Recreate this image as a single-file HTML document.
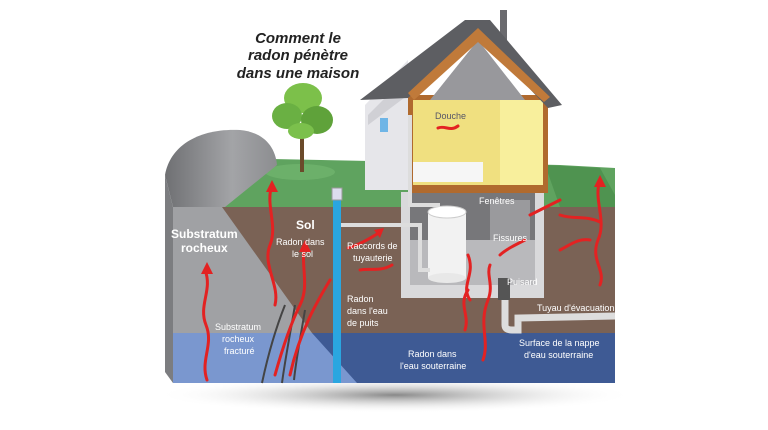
<!DOCTYPE html>
<html><head><meta charset="utf-8"><style>
html,body{margin:0;padding:0;background:#fff;width:768px;height:430px;overflow:hidden}
svg text{font-family:"Liberation Sans",sans-serif}
</style></head><body>
<svg width="768" height="430" viewBox="0 0 768 430" xmlns="http://www.w3.org/2000/svg">
<defs>
<radialGradient id="sh" cx="50%" cy="50%" r="50%"><stop offset="0" stop-color="#555" stop-opacity=".7"/><stop offset="1" stop-color="#fff" stop-opacity="0"/></radialGradient>
<linearGradient id="rk" x1="0" y1="0" x2="1" y2="0"><stop offset="0" stop-color="#6f7073"/><stop offset=".6" stop-color="#a3a4a7"/><stop offset="1" stop-color="#8c8d90"/></linearGradient>
</defs>
<rect width="768" height="430" fill="#fff"/>
<ellipse cx="395" cy="395" rx="240" ry="18" fill="url(#sh)"/>
<!-- grass top -->
<polygon points="225,158 560,165 615,168 615,207 200,207" fill="#5fa35f"/>
<polygon points="545,165 600,168 615,195 615,207 560,207" fill="#4f9350"/>
<ellipse cx="300" cy="172" rx="35" ry="8" fill="#6cb06a"/>
<!-- rock hill -->
<path d="M165,175 C170,145 200,128 240,130 C262,132 275,145 277,165 L225,207 L173,207 Z" fill="url(#rk)"/>
<path d="M165,175 L173,207 L173,383 L165,372 Z" fill="#7c7d80"/>
<!-- front soil -->
<rect x="173" y="207" width="442" height="126" fill="#7a6255"/>
<rect x="173" y="333" width="442" height="50" fill="#3e5a94"/>
<polygon points="173,207 222,207 312,333 173,333" fill="#a0a1a4"/>
<polygon points="173,333 312,333 357,383 173,383" fill="#7a97cf"/>
<g fill="none" stroke="#444" stroke-width="2">
<path d="M285,305 C275,330 268,355 262,383"/><path d="M295,305 C290,335 285,360 282,383"/><path d="M305,310 C300,340 296,360 294,380"/>
</g>
<!-- well pipe -->
<rect x="333" y="195" width="8" height="188" fill="#2aa6e0"/>
<rect x="332" y="188" width="10" height="12" fill="#dde" stroke="#999"/>
<!-- basement -->
<rect x="401" y="192" width="143" height="106" fill="#d9d9db"/>
<rect x="410" y="192" width="125" height="48" fill="#77777a"/>
<polygon points="410,240 535,240 535,285 410,285" fill="#b9b9bc"/>
<rect x="490" y="200" width="40" height="40" fill="#9a9a9d"/>
<rect x="428" y="212" width="38" height="66" fill="#f2f2f2"/>
<ellipse cx="447" cy="212" rx="19" ry="6" fill="#fff" stroke="#ccc"/>
<ellipse cx="447" cy="278" rx="19" ry="5" fill="#e8e8e8"/>
<path d="M505,300 L505,325 Q505,330 512,330 L518,330 L518,318 L615,316" fill="none" stroke="#ddd" stroke-width="7"/>
<rect x="498" y="278" width="12" height="22" fill="#555"/>
<!-- house -->
<polygon points="365,105 408,60 408,190 365,190" fill="#e6e6ea"/>
<polygon points="368,115 408,75 408,95 368,125" fill="#d0d0d5"/>
<rect x="380" y="118" width="8" height="14" fill="#6fb5e6"/>
<rect x="408" y="95" width="140" height="98" fill="#b06a2e"/>
<rect x="413" y="100" width="130" height="85" fill="#f0e080"/>
<rect x="500" y="100" width="43" height="85" fill="#f8ef9c"/>
<rect x="413" y="162" width="70" height="20" fill="#f6f6f6"/>
<polygon points="430,100 525,100 478,40" fill="#98989c"/>
<rect x="500" y="10" width="7" height="40" fill="#6a6a6e"/>
<polygon points="360,100 465,20 490,20 562,105 548,108 478,35 408,98" fill="#5d5e62"/>
<polygon points="478,28 408,93 414,100 478,42 544,102 550,97" fill="#c07a3a"/>
<!-- tree -->
<rect x="300" y="128" width="4" height="44" fill="#6b4a2a"/>
<ellipse cx="303" cy="98" rx="19" ry="15" fill="#7cc04a"/>
<ellipse cx="287" cy="116" rx="15" ry="13" fill="#6ab043"/>
<ellipse cx="317" cy="120" rx="16" ry="14" fill="#5fa23a"/>
<ellipse cx="301" cy="131" rx="13" ry="8" fill="#7bc04c"/>
<path d="M410,115 L410,205 L440,205" fill="none" stroke="#ddd" stroke-width="4"/>
<path d="M341,225 L420,225 L420,270 L430,270" fill="none" stroke="#ddd" stroke-width="4"/>
<g fill="none" stroke="#e32222" stroke-width="3" stroke-linecap="round">
<path d="M207,380 C200,360 214,345 206,325 C198,305 213,290 205,270"/>
<path d="M272,185 C265,205 278,225 270,245 C262,265 280,285 275,305"/>
<path d="M305,245 C300,265 310,285 300,305 C290,325 282,350 275,375"/>
<path d="M330,280 C318,300 300,330 290,375"/>
<path d="M600,180 C593,200 607,220 598,240 C590,260 606,270 600,285"/>
<path d="M348,248 C358,245 368,240 380,232"/>
<path d="M470,300 C460,285 476,275 468,255"/>
<path d="M465,330 C470,315 458,305 468,290"/>
<path d="M483,360 C490,340 478,325 488,300 C494,285 486,275 490,265"/>
<path d="M530,215 C540,210 550,205 560,200"/>
<path d="M560,250 C570,245 578,238 590,240"/>
<path d="M500,255 C505,250 515,245 525,240"/>
<path d="M360,270 C370,268 380,272 392,265"/>
<path d="M560,215 C575,220 585,215 600,222"/>
<path d="M438,128 C445,125 450,132 458,126"/>
</g>
<g fill="#e32222">
<polygon points="207,262 201,274 213,274"/><polygon points="272,180 266,192 278,192"/><polygon points="305,240 299,252 311,252"/><polygon points="600,175 594,187 606,187"/><polygon points="384,228 374,230 380,238"/>
</g>
<g font-weight="bold" font-style="italic" font-size="15" fill="#222" text-anchor="middle">
<text x="298" y="43">Comment le</text><text x="298" y="60">radon pénètre</text><text x="298" y="78">dans une maison</text>
</g>
<g font-size="9" fill="#fff">
<text x="171" y="238" font-size="12" font-weight="bold">Substratum</text>
<text x="181" y="252" font-size="12" font-weight="bold">rocheux</text>
<text x="296" y="229" font-size="12" font-weight="bold">Sol</text>
<text x="276" y="245">Radon dans</text><text x="292" y="257">le sol</text>
<text x="215" y="330">Substratum</text><text x="222" y="342">rocheux</text><text x="224" y="354">fracturé</text>
<text x="347" y="249">Raccords de</text><text x="353" y="261">tuyauterie</text>
<text x="347" y="302">Radon</text><text x="347" y="314">dans l'eau</text><text x="347" y="326">de puits</text>
<text x="408" y="357">Radon dans</text><text x="400" y="369">l'eau souterraine</text>
<text x="519" y="346">Surface de la nappe</text><text x="524" y="358">d'eau souterraine</text>
<text x="493" y="241">Fissures</text>
<text x="479" y="204">Fenêtres</text>
<text x="507" y="285">Puisard</text>
<text x="537" y="311">Tuyau d'évacuation</text>
</g>
<text x="435" y="119" font-size="9" fill="#556">Douche</text>
</svg>
</body></html>
